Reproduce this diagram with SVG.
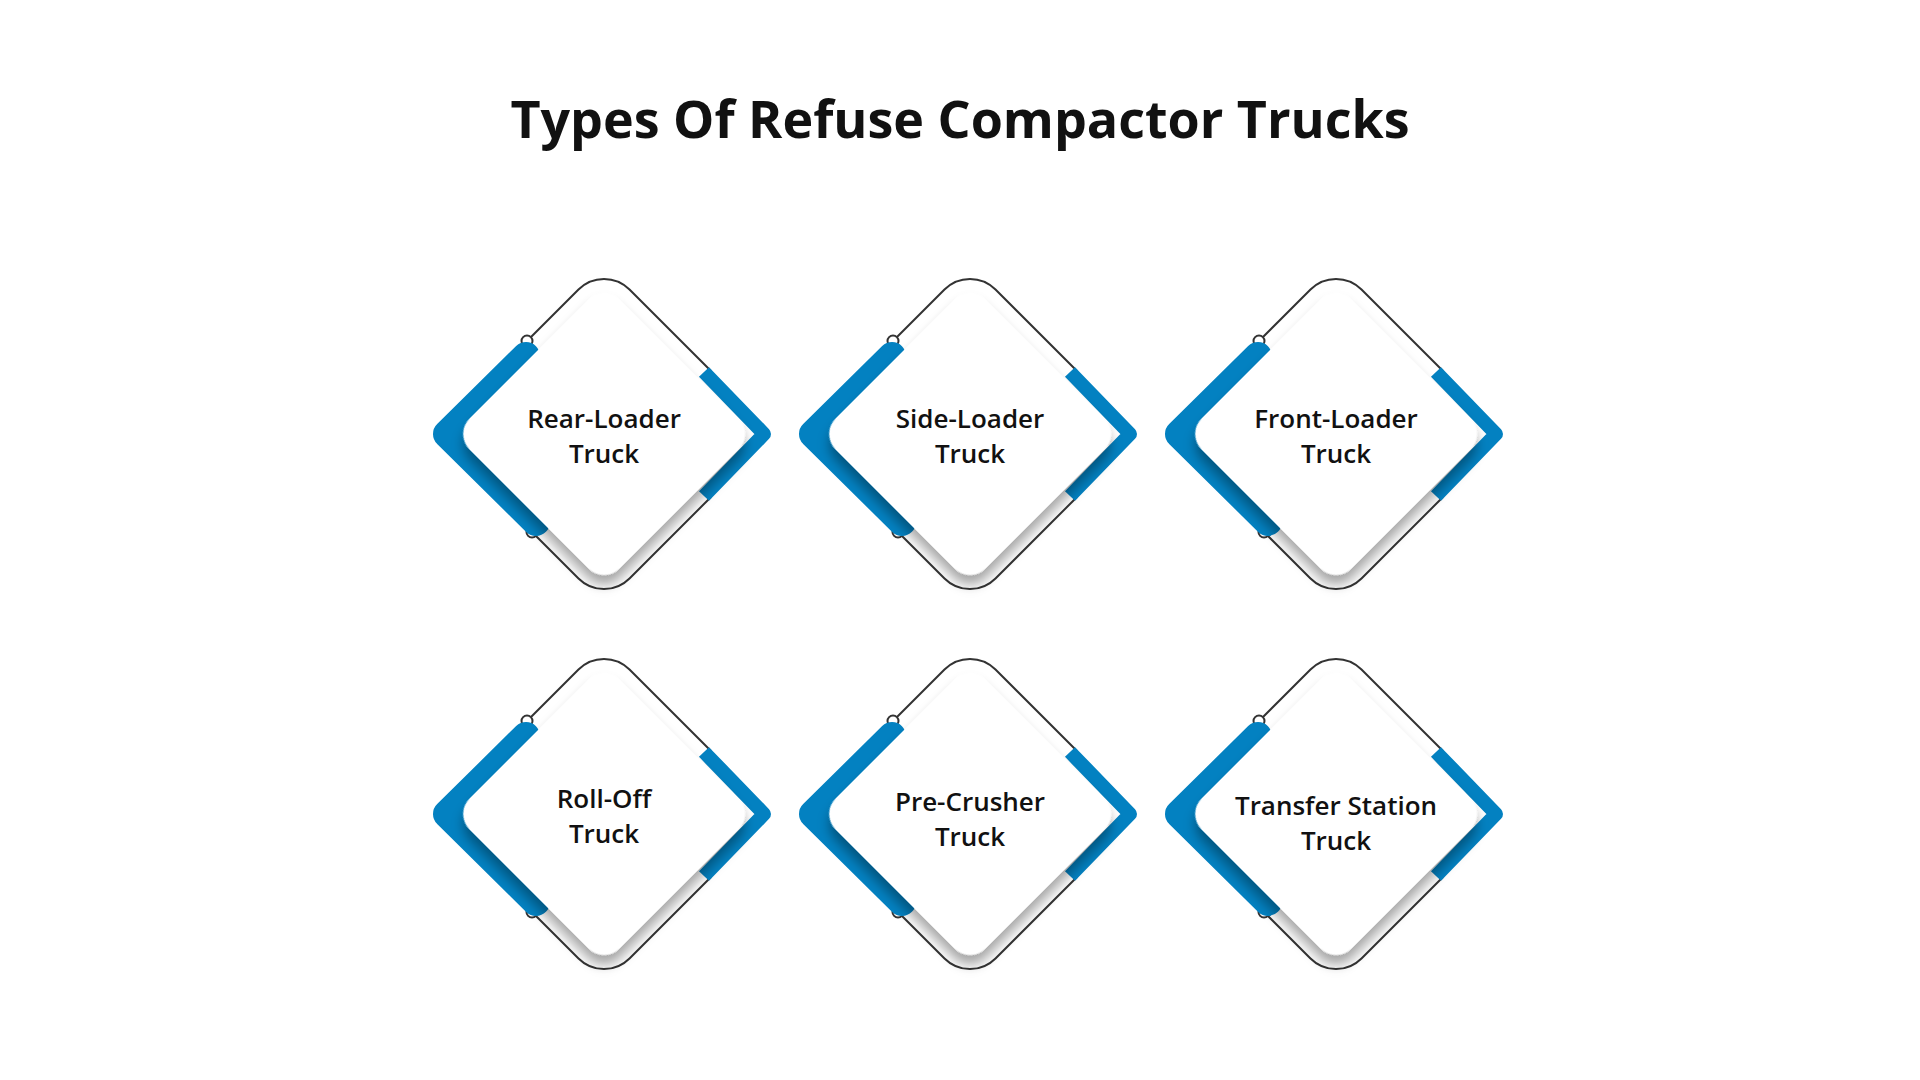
<svg xmlns="http://www.w3.org/2000/svg" width="1920" height="1080" viewBox="0 0 1920 1080">
<defs>
<filter id="sh" x="-30%" y="-30%" width="160%" height="160%"><feDropShadow dx="7" dy="7" stdDeviation="6" flood-color="#000" flood-opacity="0.35"/></filter>
<g id="node">
<path class="ol" d="M -77,-93 L -25.5,-144.5 A 36 36 0 0 1 25.5,-144.5 L 107,-63"/>
<path class="ol" d="M -72,98 L -25.5,144.5 A 36 36 0 0 0 25.5,144.5 L 107,63"/>
<circle class="dot" cx="-77" cy="-93" r="5.5"/>
<circle class="dot" cx="-72" cy="98" r="5.5"/>
<path class="bl" d="M -78,-78 L -157,0 L -68,88"/>
<path class="br" d="M 100,-62 L 160,0 L 100,62"/>
<rect class="card" x="-106" y="-106" width="212" height="212" rx="22" transform="rotate(45)"/>
</g>
</defs>
<style>
.ol{fill:none;stroke:#333;stroke-width:2}
.dot{fill:#fff;stroke:#333;stroke-width:2}
.bl{fill:none;stroke:#0381C1;stroke-width:28;stroke-linejoin:round;stroke-linecap:round}
.br{fill:none;stroke:#0381C1;stroke-width:14;stroke-linejoin:round}
.card{fill:#fff;filter:url(#sh)}
.t{font-family:"Open Sans","Noto Sans",sans-serif;font-weight:600;font-size:26px;fill:#111;text-anchor:middle}
.title{font-family:"Open Sans","Noto Sans",sans-serif;font-weight:700;font-size:52px;fill:#111;text-anchor:middle}
</style>
<rect width="1920" height="1080" fill="#fff"/>
<text class="title" x="960" y="138">Types Of Refuse Compactor Trucks</text>
<g id="connectors"/>
<g id="n1" transform="translate(604,434)"><use href="#node"/><text class="t" y="-6">Rear-Loader</text><text class="t" y="29">Truck</text></g>
<g id="n2" transform="translate(970,434)"><use href="#node"/><text class="t" y="-6">Side-Loader</text><text class="t" y="29">Truck</text></g>
<g id="n3" transform="translate(1336,434)"><use href="#node"/><text class="t" y="-6">Front-Loader</text><text class="t" y="29">Truck</text></g>
<g id="n4" transform="translate(604,814)"><use href="#node"/><text class="t" y="-6">Roll-Off</text><text class="t" y="29">Truck</text></g>
<g id="n5" transform="translate(970,814)"><use href="#node"/><text class="t" y="-3">Pre-Crusher</text><text class="t" y="32">Truck</text></g>
<g id="n6" transform="translate(1336,814)"><use href="#node"/><text class="t" y="1">Transfer Station</text><text class="t" y="36">Truck</text></g>
</svg>
